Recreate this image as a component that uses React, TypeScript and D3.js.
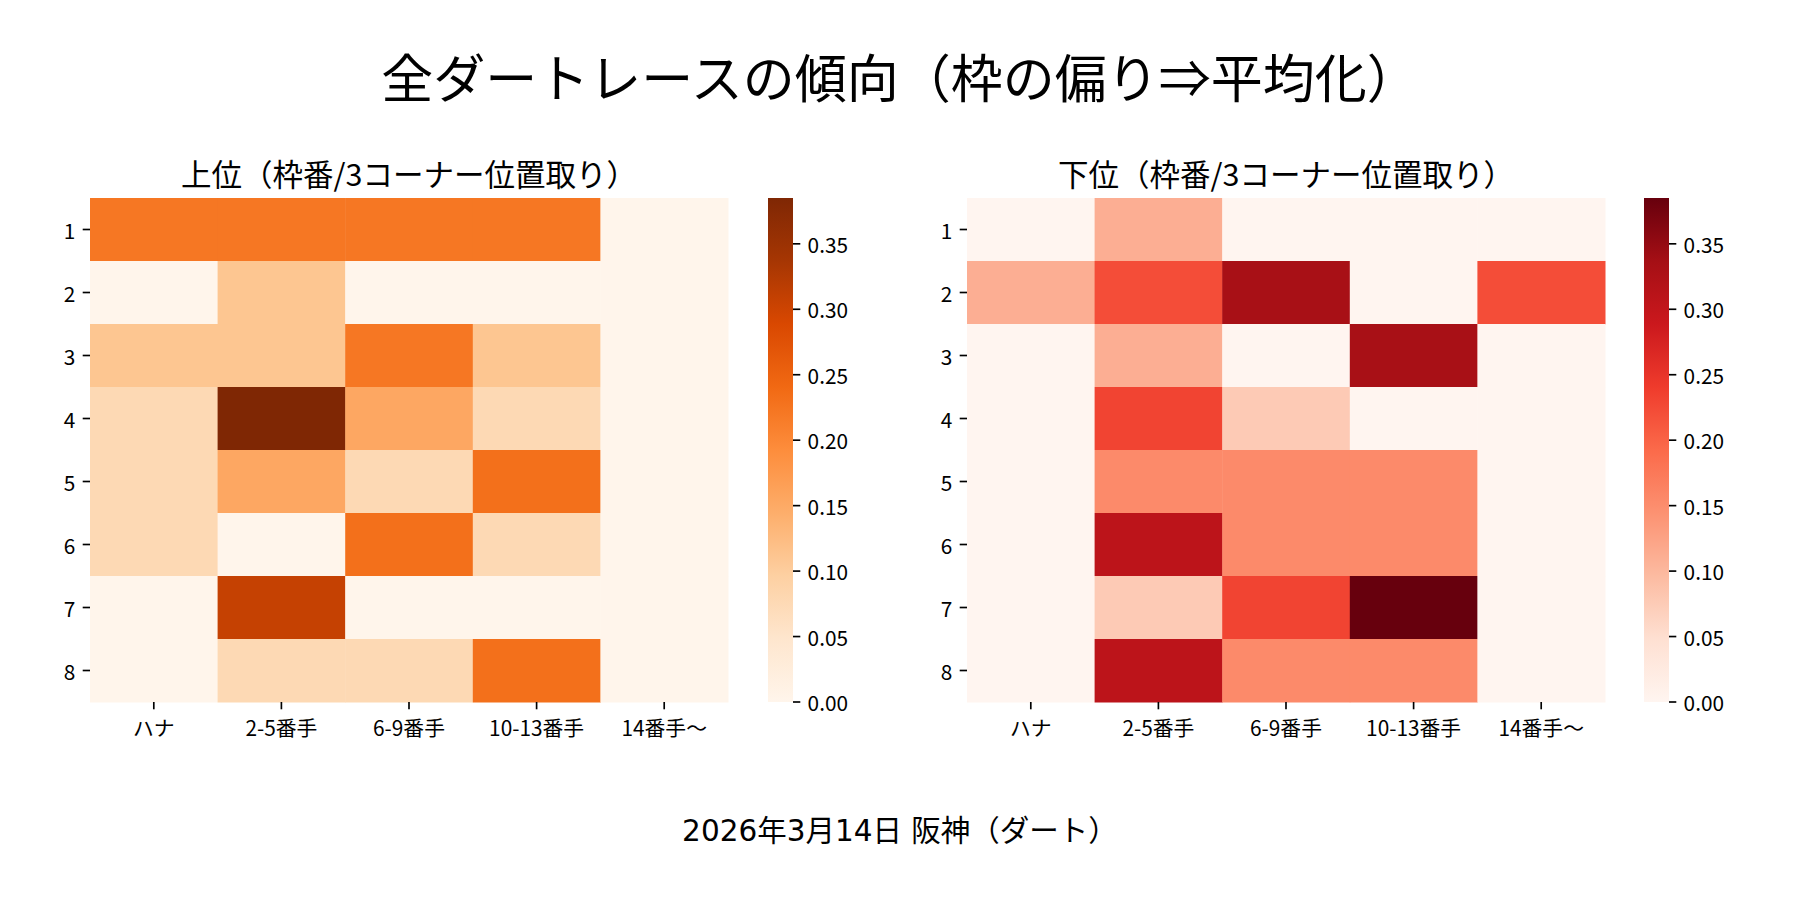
import { useEffect } from 'react';
import * as d3 from 'd3';

const rowLabels = ['1', '2', '3', '4', '5', '6', '7', '8'];
const colLabels = ['ハナ', '2-5番手', '6-9番手', '10-13番手', '14番手〜'];

// 上位 (rows = 枠番, cols = 3コーナー位置取り)
const topValues = [
  [0.222, 0.222, 0.222, 0.222, 0],
  [0, 0.111, 0, 0, 0],
  [0.111, 0.111, 0.222, 0.111, 0],
  [0.077, 0.385, 0.154, 0.077, 0],
  [0.077, 0.154, 0.077, 0.231, 0],
  [0.077, 0, 0.231, 0.077, 0],
  [0, 0.308, 0, 0, 0],
  [0, 0.077, 0.077, 0.231, 0],
];

// 下位
const bottomValues = [
  [0, 0.111, 0, 0, 0],
  [0.111, 0.222, 0.333, 0, 0.222],
  [0, 0.111, 0, 0.333, 0],
  [0, 0.231, 0.077, 0, 0],
  [0, 0.154, 0.154, 0.154, 0],
  [0, 0.308, 0.154, 0.154, 0],
  [0, 0.077, 0.231, 0.385, 0],
  [0, 0.308, 0.154, 0.154, 0],
];

const cbTicks = [0, 0.05, 0.1, 0.15, 0.2, 0.25, 0.3, 0.35];

const orangesStops = ['#fff5eb', '#fee6ce', '#fdd0a2', '#fdae6b', '#fd8d3c', '#f16913', '#d94801', '#a63603', '#7f2704'];
const redsStops = ['#fff5f0', '#fee0d2', '#fcbba1', '#fc9272', '#fb6a4a', '#ef3b2c', '#cb181d', '#a50f15', '#67000d'];

const FONT = '"Noto Sans CJK JP", "Noto Sans", sans-serif';
const WIDE_FONT = '"DejaVu Sans", "Noto Sans CJK JP", sans-serif';
const W = 1800;
const H = 900;
const TICK = 7.3;
const PAD = 7.3;
const LABEL_PX = 20.8;

function colormap(stops: string[]) {
  const dom = stops.map((_, i) => i / (stops.length - 1));
  return d3.scaleLinear<string>().domain(dom).range(stops).interpolate(d3.interpolateRgb).clamp(true);
}

interface HeatProps {
  id: string;
  title: string;
  values: number[][];
  stops: string[];
  left: number;
  cbLeft: number;
}

function Heatmap({ id, title, values, stops, left, cbLeft }: HeatProps) {
  const top = 198;
  const bottom = 702;
  const width = 638;
  const cbWidth = 25;

  const vmax = d3.max(values.flat()) ?? 1;
  const cmap = colormap(stops);

  const x = d3.scaleBand().domain(colLabels).range([left, left + width]);
  const y = d3.scaleBand().domain(rowLabels).range([top, bottom]);
  const cb = d3.scaleLinear().domain([0, vmax]).range([bottom, top]);

  const cells = values.flatMap((row, ri) =>
    row.map((v, ci) => ({ row: rowLabels[ri], col: colLabels[ci], v }))
  );

  return (
    <g>
      <defs>
        <linearGradient id={id} x1="0" y1="1" x2="0" y2="0">
          {stops.map((c, i) => (
            <stop key={i} offset={i / (stops.length - 1)} stopColor={c} />
          ))}
        </linearGradient>
      </defs>
      <text
        x={left + width / 2}
        y={top - 12.5}
        textAnchor="middle"
        fontSize={30.5}
        fill="#000"
      >
        {title}
      </text>
      {cells.map((d, i) => (
        <rect
          key={i}
          x={x(d.col)!}
          y={y(d.row)!}
          width={x.bandwidth() + 0.5}
          height={y.bandwidth() + 0.5}
          fill={cmap(d.v / vmax)}
        />
      ))}
      {rowLabels.map((r) => {
        const cy = y(r)! + y.bandwidth() / 2;
        return (
          <g key={r}>
            <line x1={left - TICK} x2={left} y1={cy} y2={cy} stroke="#000" strokeWidth={1.67} />
            <text x={left - TICK - PAD} y={cy} textAnchor="end" dominantBaseline="central" fontSize={LABEL_PX}>
              {r}
            </text>
          </g>
        );
      })}
      {colLabels.map((c) => {
        const cx = x(c)! + x.bandwidth() / 2;
        return (
          <g key={c}>
            <line x1={cx} x2={cx} y1={bottom} y2={bottom + TICK} stroke="#000" strokeWidth={1.67} />
            <text x={cx} y={bottom + TICK + PAD + 10} textAnchor="middle" dominantBaseline="central" fontSize={LABEL_PX}>
              {c}
            </text>
          </g>
        );
      })}
      <rect x={cbLeft} y={top} width={cbWidth} height={bottom - top} fill={`url(#${id})`} />
      {cbTicks.map((t) => (
        <g key={t}>
          <line
            x1={cbLeft + cbWidth}
            x2={cbLeft + cbWidth + TICK}
            y1={cb(t)}
            y2={cb(t)}
            stroke="#000"
            strokeWidth={1.67}
          />
          <text
            x={cbLeft + cbWidth + TICK + PAD}
            y={cb(t)}
            dominantBaseline="central"
            fontSize={LABEL_PX}
          >
            {d3.format('.2f')(t)}
          </text>
        </g>
      ))}
    </g>
  );
}

export default function App() {
  useEffect(() => {
    document.body.style.margin = '0';
  }, []);

  return (
    <svg width={W} height={H} viewBox={`0 0 ${W} ${H}`} style={{ display: 'block', background: '#fff' }} fontFamily={FONT}>
      <rect width={W} height={H} fill="#fff" />
      <text x={W / 2} y={75} textAnchor="middle" dominantBaseline="central" fontSize={52}>
        全ダートレースの傾向（枠の偏り⇒平均化）
      </text>
      <Heatmap id="cb-top" title="上位（枠番/3コーナー位置取り）" values={topValues} stops={orangesStops} left={90} cbLeft={768} />
      <Heatmap id="cb-bottom" title="下位（枠番/3コーナー位置取り）" values={bottomValues} stops={redsStops} left={967} cbLeft={1644} />
      <text x={W / 2} y={830.5} textAnchor="middle" dominantBaseline="central" fontSize={29.5} fontFamily={WIDE_FONT}>
        2026年3月14日 阪神（ダート）
      </text>
    </svg>
  );
}
